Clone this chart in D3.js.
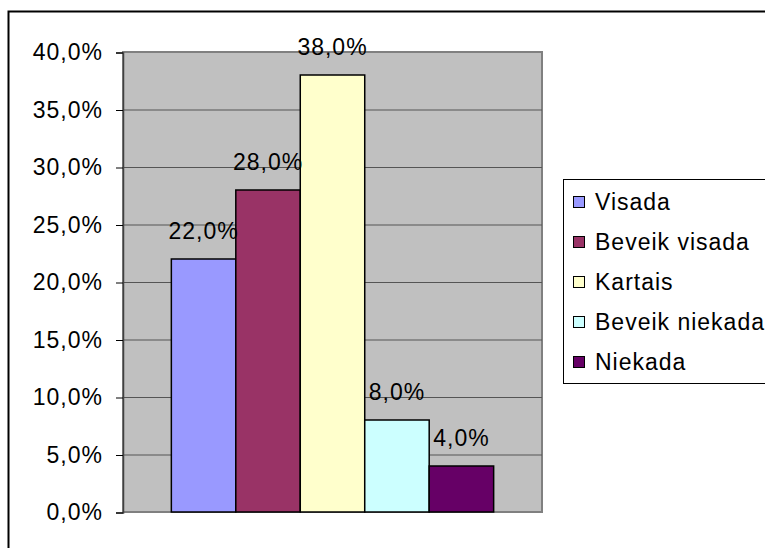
<html>
<head>
<script src="https://d3js.org/d3.v7.min.js"></script>
<style>
  body { margin: 0; background: white; }
  text { font-family: "Liberation Sans", Arial, sans-serif; letter-spacing: 1px; }
</style>
</head>
<body>
<svg id="chart" width="765" height="548"></svg>
<script>
// data
var categories = ["Visada", "Beveik visada", "Kartais", "Beveik niekada", "Niekada"];
var values = [22.0, 28.0, 38.0, 8.0, 4.0];
var colors = ["#9999FF", "#993366", "#FFFFCC", "#CCFFFF", "#660066"];
var yTicks = [0, 5, 10, 15, 20, 25, 30, 35, 40];

var svg = d3.select("#chart");
var fmt = function (v) { return v.toFixed(1).replace(".", ",") + "%"; };

// outer frame (runs off right and bottom)
svg.append("rect")
  .attr("x", 8.5).attr("y", 11.5)
  .attr("width", 900).attr("height", 700)
  .attr("fill", "white").attr("stroke", "black").attr("stroke-width", 2);

var plot = { left: 123, right: 542, top: 52, bottom: 512 };

var y = d3.scaleLinear().domain([0, 40]).range([plot.bottom, plot.top]);
// one category with five series, gap width 150%
var x = d3.scaleBand().domain(categories)
  .range([plot.left, plot.right])
  .paddingOuter(0.75).paddingInner(0);

svg.append("rect")
  .attr("x", plot.left).attr("y", plot.top)
  .attr("width", plot.right - plot.left).attr("height", plot.bottom - plot.top)
  .attr("fill", "#C0C0C0").attr("stroke", "#808080").attr("stroke-width", 2);

// gridlines
svg.append("g").selectAll("line")
  .data(yTicks.filter(function (d) { return d > 0 && d < 40; }))
  .enter().append("line")
  .attr("x1", plot.left).attr("x2", plot.right)
  .attr("y1", function (d) { return y(d) + 0.5; })
  .attr("y2", function (d) { return y(d) + 0.5; })
  .attr("stroke", "#555").attr("stroke-width", 1);

// y axis
var yAxis = d3.axisLeft(y).tickValues(yTicks).tickFormat(fmt).tickSizeOuter(0).tickSize(7).tickPadding(13);
var ga = svg.append("g").attr("transform", "translate(" + plot.left + ",0.5)").call(yAxis);
ga.select(".domain").attr("stroke", "#404040").attr("stroke-width", 1.5);
ga.selectAll(".tick line").attr("stroke", "black");
ga.selectAll(".tick text")
  .attr("font-size", 23).attr("fill", "black")
  .style("font-family", "'Liberation Sans', Arial, sans-serif");

// bars
svg.append("g").selectAll("rect")
  .data(values)
  .enter().append("rect")
  .attr("x", function (d, i) { return x(categories[i]); })
  .attr("y", function (d) { return y(d); })
  .attr("width", x.bandwidth())
  .attr("height", function (d) { return plot.bottom - y(d); })
  .attr("fill", function (d, i) { return colors[i]; })
  .attr("stroke", "black").attr("stroke-width", 1.5);

// data labels
svg.append("g").selectAll("text")
  .data(values)
  .enter().append("text")
  .attr("x", function (d, i) { return x(categories[i]) + x.bandwidth() / 2; })
  .attr("y", function (d) { return y(d) - 20; })
  .attr("text-anchor", "middle")
  .attr("font-size", 23)
  .text(fmt);

// legend
var lg = svg.append("g").attr("transform", "translate(563,179)");
lg.append("rect")
  .attr("x", 0.5).attr("y", 0.5).attr("width", 400).attr("height", 204)
  .attr("fill", "white").attr("stroke", "black").attr("stroke-width", 1);
var item = lg.selectAll(".item").data(categories).enter().append("g")
  .attr("transform", function (d, i) { return "translate(10," + (23 + i * 40) + ")"; });
item.append("rect")
  .attr("x", 0.5).attr("y", -5.5).attr("width", 11).attr("height", 11)
  .attr("fill", function (d, i) { return colors[i]; })
  .attr("stroke", "black").attr("stroke-width", 1);
item.append("text")
  .attr("x", 22).attr("y", 0).attr("dy", "0.35em")
  .attr("font-size", 23)
  .text(function (d) { return d; });
</script>
</body>
</html>
